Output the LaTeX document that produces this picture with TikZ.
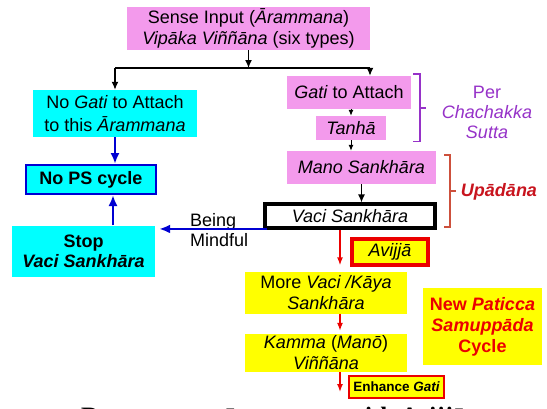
\documentclass[tikz,border=0pt]{standalone}
\usepackage{fontspec}
\setmainfont{Liberation Sans}
\newfontfamily\serifbold{Liberation Serif}
\usetikzlibrary{arrows.meta}
\definecolor{pinkbox}{RGB}{243,154,236}
\definecolor{cyanbox}{RGB}{0,255,255}
\definecolor{yelbox}{RGB}{255,255,0}
\definecolor{bluearr}{RGB}{0,0,210}
\definecolor{redarr}{RGB}{235,0,0}
\definecolor{purp}{RGB}{150,50,200}
\definecolor{brack}{RGB}{205,80,60}
\definecolor{upad}{RGB}{200,20,30}
\tikzset{
  plain/.style={inner sep=0pt, align=center},
  blk/.style={line width=1.4pt, -{Latex[length=8pt,width=7pt]}},
  blks/.style={line width=1pt, -{Latex[length=6pt,width=5pt]}},
  redar/.style={draw=redarr, line width=1.4pt, -{Latex[length=8pt,width=6pt]}, redarr},
  bluar/.style={draw=bluearr, line width=2.5pt, -{Latex[length=11pt,width=9pt]}, bluearr},
}
\begin{document}
\begin{tikzpicture}[x=1pt,y=-1pt,font=\fontsize{18}{21}\selectfont]
\useasboundingbox (0,0) rectangle (547,408);
% boxes
\node[plain, fill=pinkbox, minimum width=243pt, minimum height=43pt] (top) at (248.5,28.5)
  {Sense Input (\textit{Ārammana})\\ \textit{Vipāka Viññāna} (six types)};
\node[plain, fill=cyanbox, minimum width=164pt, minimum height=47pt, font=\fontsize{18}{23}\selectfont] (left) at (115,113.5)
  {No \textit{Gati} to Attach\\ to this \textit{Ārammana}};
\node[plain, fill=pinkbox, minimum width=124pt, minimum height=33pt] (gati) at (349,92.5)
  {\textit{Gati} to Attach};
\node[plain, fill=pinkbox, minimum width=70pt, minimum height=24pt] (tanha) at (351,128)
  {\textit{Tanhā}};
\node[plain, fill=pinkbox, minimum width=149pt, minimum height=33pt] (mano) at (361.5,167.5)
  {\textit{Mano Sankhāra}};
\node[plain, fill=white, draw=black, line width=4pt, minimum width=169.5pt, minimum height=23.5pt] (vaci) at (350,216.2)
  {\textit{Vaci Sankhāra}};
\node[plain, fill=yelbox, draw=redarr, line width=4pt, minimum width=76pt, minimum height=26pt] (avijja) at (390,251.7)
  {\textit{Avijjā}};
\node[plain, fill=yelbox, minimum width=162pt, minimum height=42pt] (more) at (326,292.5)
  {More \textit{Vaci /Kāya}\\ \textit{Sankhāra}};
\node[plain, fill=yelbox, minimum width=162pt, minimum height=38pt] (kamma) at (326,353)
  {\textit{Kamma} (\textit{Manō})\\ \textit{Viññāna}};
\node[plain, fill=yelbox, text=redarr, font=\fontsize{18}{21}\selectfont\bfseries, minimum width=119pt, minimum height=77pt] (paticca) at (482.5,326.5)
  {New \textit{Paticca}\\ \textit{Samuppāda}\\ Cycle};
\node[plain, fill=yelbox, draw=redarr, line width=2pt, font=\fontsize{13.5}{16}\selectfont\bfseries, minimum width=95pt, minimum height=22pt] (enhance) at (396.5,387)
  {Enhance \textit{Gati}};
\node[plain, fill=cyanbox, draw=bluearr, line width=2pt, font=\fontsize{18}{21}\selectfont\bfseries, minimum width=130pt, minimum height=29pt] (nops) at (91,179.5)
  {No PS cycle};
\node[plain, fill=cyanbox, font=\fontsize{18}{20}\selectfont\bfseries, minimum width=143pt, minimum height=51pt] (stop) at (83.5,251)
  {Stop\\ \textit{Vaci Sankhāra}};
% side labels
\node[plain, text=purp, font=\fontsize{18}{20}\selectfont] (per) at (487,112) {Per\\ \textit{Chachakka}\\ \textit{Sutta}};
\node[plain, text=upad, font=\fontsize{18}{21}\selectfont\bfseries\itshape] (upa) at (499,192) {Upādāna};
\node[plain, align=left, anchor=west, font=\fontsize{18}{20}\selectfont] (mind) at (190,230) {Being\\ Mindful};
\node[anchor=base west, inner sep=0pt, font=\serifbold\bfseries\fontsize{25}{30}\selectfont] (title) at (81,424)
  {Responses to ārammana with Avijjā};
% brackets
\draw[purp, line width=1.5pt] (413,74) -- (420,74) -- (420,141.5) -- (413,141.5);
\draw[purp, line width=1.5pt] (420,108) -- (426,108);
\draw[brack, line width=1.5pt] (444,155) -- (450,155) -- (450,227) -- (444,227);
\draw[brack, line width=1.5pt] (450,191) -- (456,191);
% coordinates
\coordinate (j) at (248.5,68);
\coordinate (jl) at (115,68);
\coordinate (jr) at (370,68);
\coordinate (rx) at (340,0);
\coordinate (bx) at (113,0);
\coordinate (bs) at ([xshift=4pt,yshift=1pt]vaci.south west);
% black arrows
\draw[blk] (top.south) -- (j);
\draw[line width=1.5pt] (jl) -- (jr);
\draw[blk] (jl) -- (left.north);
\draw[blk] (jr) -- (jr |- gati.north);
\draw[blks] (tanha.north |- gati.south) -- (tanha.north);
\draw[blks] (tanha.south) -- (tanha.south |- mano.north);
\draw[blk] (mano.south) -- (mano.south |- vaci.north);
% red arrows
\draw[redar, shorten >=6pt] (vaci.south -| rx) -- (more.north -| rx);
\draw[redar, shorten >=3pt] (more.south -| rx) -- (kamma.north -| rx);
\draw[redar] (kamma.south -| rx) -- ([yshift=7pt]enhance.south -| rx);
% blue arrows
\draw[bluar] (left.south) -- (left.south |- nops.north);
\draw[bluar] (stop.north -| bx) -- (nops.south -| bx);
\draw[bluar, shorten >=4pt] (bs) -- (bs -| stop.east);
\end{tikzpicture}
\end{document}
